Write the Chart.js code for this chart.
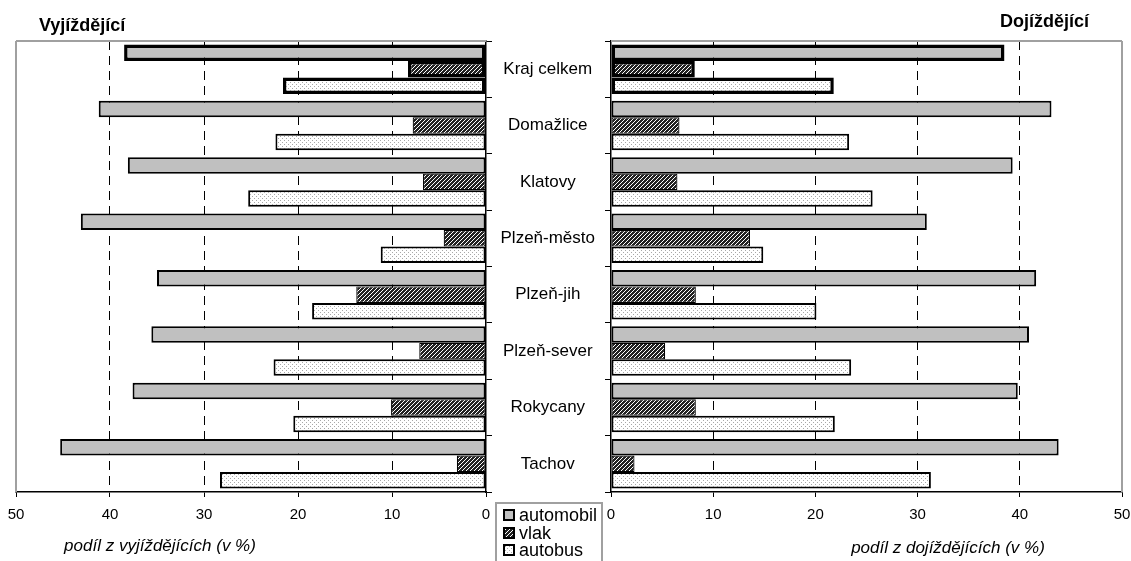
<!DOCTYPE html>
<html><head><meta charset="utf-8">
<script src="https://cdn.jsdelivr.net/npm/chart.js@4.4.1/dist/chart.umd.min.js"></script>
<style>
html,body{margin:0;padding:0;background:#fff;width:1131px;height:561px;overflow:hidden;font-family:"Liberation Sans",Arial,sans-serif;}
#cL{position:absolute;left:0;top:0;}
#cR{position:absolute;left:495px;top:0;}
.t{position:absolute;white-space:nowrap;color:#000;line-height:1;}
#legend{position:absolute;left:495px;top:502px;width:104px;height:70px;border:2px solid #a0a0a0;}
.li{position:absolute;left:6px;height:18px;font-size:18px;line-height:18px;}
.li canvas{position:absolute;left:0;top:3px;}
.li span{position:absolute;left:16px;top:0;}
</style>
</head><body>
<canvas id="cL" width="495" height="561"></canvas>
<canvas id="cR" width="636" height="561"></canvas>
<div class="t" style="left:39px;top:16px;font-size:18px;font-weight:bold;">Vyjíždějící</div>
<div class="t" style="left:1000px;top:12px;font-size:18px;font-weight:bold;">Dojíždějící</div>
<div class="t" style="left:160px;top:537px;font-size:17px;font-style:italic;transform:translateX(-50%);">podíl z vyjíždějících (v %)</div>
<div class="t" style="left:948px;top:539px;font-size:17px;font-style:italic;transform:translateX(-50%);">podíl z dojíždějících (v %)</div>
<div id="legend"></div>
<script>
// ---- data ----
const categories = ['Kraj celkem','Domažlice','Klatovy','Plzeň-město','Plzeň-jih','Plzeň-sever','Rokycany','Tachov'];
const seriesNames = ['automobil','vlak','autobus'];
// Vyjíždějící (left)
const autoOut = [38.5, 41.2, 38.1, 43.1, 35.0, 35.6, 37.6, 45.3];
const vlakOut = [8.3, 7.8, 6.7, 4.5, 13.8, 7.1, 10.1, 3.1];
const busOut  = [21.6, 22.4, 25.3, 11.2, 18.5, 22.6, 20.5, 28.3];
// Dojíždějící (right)
const autoIn = [38.5, 43.1, 39.3, 30.9, 41.6, 40.9, 39.8, 43.8];
const vlakIn = [8.2, 6.7, 6.5, 13.6, 8.3, 5.3, 8.3, 2.3];
const busIn  = [21.8, 23.3, 25.6, 14.9, 20.1, 23.5, 21.9, 31.3];
const xTickMin = 0, xTickMax = 50, xTickStep = 10;

// ---- patterns ----
function makeTile(kind){
  const c = document.createElement('canvas');
  c.width = 4; c.height = 4;
  const g = c.getContext('2d');
  g.fillStyle = '#fff'; g.fillRect(0,0,4,4);
  if (kind === 'hatch'){
    g.fillStyle = '#222';
    for (let y=0;y<4;y++) for (let x=0;x<4;x++){
      const s = (x + y) % 4;
      if (s !== 0) g.fillRect(x,y,1,1);
    }
  } else if (kind === 'dots'){
    g.fillStyle = '#a8a8a8';
    g.fillRect(0,0,1,1); g.fillRect(2,2,1,1);
  }
  return c;
}
const tiles = [null, makeTile('hatch'), makeTile('dots')];
const helperCtx = document.createElement('canvas').getContext('2d');
const fills = ['#c0c0c0', helperCtx.createPattern(tiles[1],'repeat'), helperCtx.createPattern(tiles[2],'repeat')];

const FONT = '"Liberation Sans", Arial, sans-serif';
Chart.defaults.font.family = FONT;
Chart.defaults.color = '#000';

function datasets(a,b,c){
  return [a,b,c].map((d,i)=>({
    label: seriesNames[i],
    data: d,
    backgroundColor: fills[i],
    borderColor: '#000',
    borderWidth: ctx => ctx.dataIndex === 0 ? 3.5 : (i === 1 ? 1.2 : 2),
    borderSkipped: false,
    barPercentage: 1.0,
    categoryPercentage: 0.88
  }));
}

function frame(sides){
  return {
    id: 'frame',
    beforeDatasetsDraw(chart){
      const {ctx, chartArea:{left,right,top,bottom}} = chart;
      ctx.save();
      ctx.strokeStyle = '#a0a0a0';
      ctx.lineWidth = 2;
      ctx.beginPath();
      ctx.moveTo(left, top); ctx.lineTo(right, top);
      if (sides === 'left'){ ctx.moveTo(left, top); ctx.lineTo(left, bottom); }
      else { ctx.moveTo(right, top); ctx.lineTo(right, bottom); }
      ctx.stroke();
      ctx.restore();
    }
  };
}

function xScale(reverse){
  return {
    type: 'linear', min: xTickMin, max: xTickMax, reverse: reverse,
    ticks: {stepSize: xTickStep, color:'#000', font:{size:15}, padding: 9, maxRotation: 0},
    grid: {
      color: c => (c.tick && (c.tick.value === xTickMin || c.tick.value === xTickMax)) ? 'rgba(0,0,0,0)' : '#000',
      lineWidth: 1, drawTicks: true, tickLength: 5, tickColor: '#000', tickWidth: 1
    },
    border: {display: true, color: '#000', width: 1.5, dash: [9,6]},
    afterFit: s => { s.height = 69; s.paddingLeft = 0; s.paddingRight = 0; }
  };
}

const baseOptions = {
  indexAxis: 'y',
  responsive: false,
  animation: false,
  devicePixelRatio: 1,
  plugins: {legend:{display:false}, tooltip:{enabled:false}, title:{display:false}}
};

new Chart(document.getElementById('cL'), {
  type: 'bar',
  data: {labels: categories, datasets: datasets(autoOut, vlakOut, busOut)},
  options: Object.assign({}, baseOptions, {
    layout: {padding: {left: 16, top: 41, right: 0, bottom: 0}},
    scales: {
      x: xScale(true),
      y: {
        type: 'category', position: 'right',
        ticks: {display: false},
        grid: {drawOnChartArea: false, drawTicks: true, tickLength: 6, tickColor: '#000', offset: true},
        border: {color: '#000', width: 1.5},
        afterFit: s => { s.width = 9; }
      }
    }
  }),
  plugins: [frame('left')]
});

new Chart(document.getElementById('cR'), {
  type: 'bar',
  data: {labels: categories, datasets: datasets(autoIn, vlakIn, busIn)},
  options: Object.assign({}, baseOptions, {
    layout: {padding: {left: 0, top: 41, right: 9, bottom: 0}},
    scales: {
      x: xScale(false),
      y: {
        type: 'category', position: 'left',
        ticks: {display: true, color: '#000', font: {size: 17}, crossAlign: 'center', padding: 10},
        grid: {drawOnChartArea: false, drawTicks: true, tickLength: 6, tickColor: '#000', offset: true},
        border: {color: '#000', width: 1.5},
        afterFit: s => { s.width = 116; }
      }
    }
  }),
  plugins: [frame('right')]
});

// ---- legend ----
const leg = document.getElementById('legend');
const tops = [2, 20, 37];
seriesNames.forEach((n,i)=>{
  const d = document.createElement('div');
  d.className = 'li'; d.style.top = tops[i] + 'px';
  const c = document.createElement('canvas'); c.width = 12; c.height = 12;
  const g = c.getContext('2d');
  g.fillStyle = tiles[i] ? g.createPattern(tiles[i], 'repeat') : fills[i];
  g.fillRect(0,0,12,12);
  g.strokeStyle = '#000'; g.lineWidth = 2; g.strokeRect(1,1,10,10);
  const s = document.createElement('span'); s.textContent = n;
  d.appendChild(c); d.appendChild(s); leg.appendChild(d);
});
</script>
</body></html>
